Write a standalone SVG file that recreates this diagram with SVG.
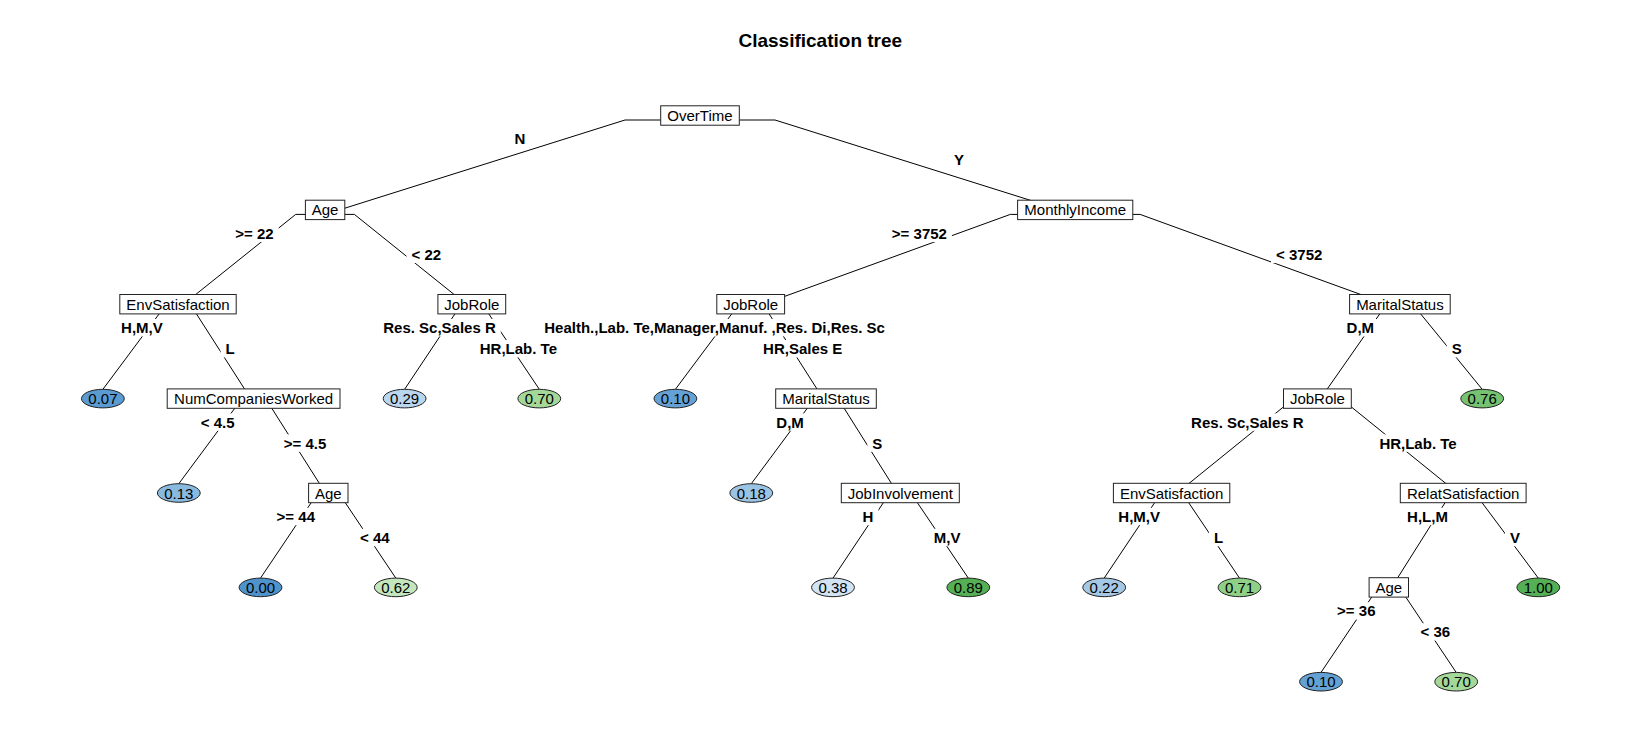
<svg xmlns="http://www.w3.org/2000/svg" width="1641" height="734" viewBox="0 0 1641 734">
<style>
text{font-family:"Liberation Sans",Arial,Helvetica,sans-serif;fill:#000}
.title{font-size:19px;font-weight:bold;text-anchor:middle}
.conn polyline{fill:none;stroke:#000;stroke-width:1}
.lbl text{font-size:15px;font-weight:bold;text-anchor:middle}
.lbl rect{fill:#fff;stroke:none}
.lbl .l{transform:translate(0,-2.5px)}
.lbl .r{transform:translate(0,-1px)}
.box rect{fill:#fff;stroke:#222;stroke-width:1}
.node text{font-size:15px;text-anchor:middle}
.leaf ellipse{stroke:#222;stroke-width:1}
</style>
<rect width="1641" height="734" fill="#fff"/>
<text class="title" x="820.3" y="46.5">Classification tree</text>

<g id="connectors" class="conn">
<polyline points="700,120 625,120 325.1,214.4"/>
<polyline points="700,120 775,120 1075.2,214.4"/>
<polyline points="325.1,214.4 295.7,214.4 178,308.7"/>
<polyline points="325.1,214.4 354.4,214.4 471.8,308.7"/>
<polyline points="1075.2,214.4 1010.3,214.4 750.7,308.7"/>
<polyline points="1075.2,214.4 1140.1,214.4 1399.9,308.7"/>
<polyline points="178,308.7 163,308.7 102.9,389.3"/>
<polyline points="178,308.7 193.1,308.7 253.6,403.1"/>
<polyline points="471.8,308.7 458.4,308.7 404.6,389.3"/>
<polyline points="471.8,308.7 485.3,308.7 539.3,389.3"/>
<polyline points="750.7,308.7 735.6,308.7 675.4,389.3"/>
<polyline points="750.7,308.7 765.8,308.7 826,403.1"/>
<polyline points="1399.9,308.7 1383.4,308.7 1317.4,403.1"/>
<polyline points="1399.9,308.7 1416.4,308.7 1482.2,389.3"/>
<polyline points="253.6,403.1 238.6,403.1 178.8,483.7"/>
<polyline points="253.6,403.1 268.5,403.1 328.3,497.5"/>
<polyline points="826,403.1 811.1,403.1 751.3,483.7"/>
<polyline points="826,403.1 840.9,403.1 900.3,497.5"/>
<polyline points="1317.4,403.1 1288.2,403.1 1171.6,497.5"/>
<polyline points="1317.4,403.1 1346.6,403.1 1463.2,497.5"/>
<polyline points="328.3,497.5 314.7,497.5 260.5,578.1"/>
<polyline points="328.3,497.5 341.8,497.5 395.8,578.1"/>
<polyline points="900.3,497.5 886.8,497.5 833,578.1"/>
<polyline points="900.3,497.5 913.9,497.5 968.3,578.1"/>
<polyline points="1171.6,497.5 1158.1,497.5 1104.2,578.1"/>
<polyline points="1171.6,497.5 1185.2,497.5 1239.5,578.1"/>
<polyline points="1463.2,497.5 1448.3,497.5 1388.8,591.9"/>
<polyline points="1463.2,497.5 1478.2,497.5 1538.3,578.1"/>
<polyline points="1388.8,591.9 1375.2,591.9 1321,672.4"/>
<polyline points="1388.8,591.9 1402.3,591.9 1456.2,672.4"/>
</g>

<g id="edge-labels" class="lbl">
<g class="l"><rect x="509.6" y="132.8" width="20.8" height="17.4"/><text x="520" y="146.9">N</text></g>
<g class="r"><rect x="948.9" y="152.3" width="20" height="17.4"/><text x="958.9" y="166.4">Y</text></g>
<g class="l"><rect x="230.3" y="227.2" width="48.4" height="17.4"/><text x="254.5" y="241.3">&gt;= 22</text></g>
<g class="r"><rect x="406.5" y="246.7" width="39.6" height="17.4"/><text x="426.3" y="260.8">&lt; 22</text></g>
<g class="l"><rect x="886.8" y="227.2" width="65.1" height="17.4"/><text x="919.4" y="241.3">&gt;= 3752</text></g>
<g class="r"><rect x="1271" y="246.7" width="56.3" height="17.4"/><text x="1299.2" y="260.8">&lt; 3752</text></g>
<g class="l"><rect x="116" y="321.5" width="51.7" height="17.4"/><text x="141.9" y="335.6">H,M,V</text></g>
<g class="r"><rect x="220.6" y="341" width="19.2" height="17.4"/><text x="230.2" y="355.1">L</text></g>
<g class="l"><rect x="378.2" y="321.5" width="122.6" height="17.4"/><text x="439.5" y="335.6">Res. Sc,Sales R</text></g>
<g class="r"><rect x="474.2" y="341" width="88.3" height="17.4"/><text x="518.4" y="355.1">HR,Lab. Te</text></g>
<g class="l"><rect x="537.3" y="321.5" width="354.6" height="17.4"/><text x="714.6" y="335.6">Health.,Lab. Te,Manager,Manuf. ,Res. Di,Res. Sc</text></g>
<g class="r"><rect x="758.1" y="341" width="89.2" height="17.4"/><text x="802.7" y="355.1">HR,Sales E</text></g>
<g class="l"><rect x="1341.5" y="321.5" width="37.5" height="17.4"/><text x="1360.3" y="335.6">D,M</text></g>
<g class="r"><rect x="1446.7" y="341" width="20" height="17.4"/><text x="1456.7" y="355.1">S</text></g>
<g class="l"><rect x="195.8" y="415.9" width="43.8" height="17.4"/><text x="217.7" y="430">&lt; 4.5</text></g>
<g class="r"><rect x="278.8" y="435.4" width="52.5" height="17.4"/><text x="305.1" y="449.5">&gt;= 4.5</text></g>
<g class="l"><rect x="771.3" y="415.9" width="37.5" height="17.4"/><text x="790.1" y="430">D,M</text></g>
<g class="r"><rect x="867.3" y="435.4" width="20" height="17.4"/><text x="877.3" y="449.5">S</text></g>
<g class="l"><rect x="1186.1" y="415.9" width="122.6" height="17.4"/><text x="1247.4" y="430">Res. Sc,Sales R</text></g>
<g class="r"><rect x="1373.8" y="435.4" width="88.3" height="17.4"/><text x="1418" y="449.5">HR,Lab. Te</text></g>
<g class="l"><rect x="271.6" y="510.3" width="48.4" height="17.4"/><text x="295.8" y="524.4">&gt;= 44</text></g>
<g class="r"><rect x="355.1" y="529.8" width="39.6" height="17.4"/><text x="374.9" y="543.9">&lt; 44</text></g>
<g class="l"><rect x="857.6" y="510.3" width="20.8" height="17.4"/><text x="868" y="524.4">H</text></g>
<g class="r"><rect x="928.8" y="529.8" width="36.7" height="17.4"/><text x="947.2" y="543.9">M,V</text></g>
<g class="l"><rect x="1113.3" y="510.3" width="51.7" height="17.4"/><text x="1139.2" y="524.4">H,M,V</text></g>
<g class="r"><rect x="1208.9" y="529.8" width="19.2" height="17.4"/><text x="1218.5" y="543.9">L</text></g>
<g class="l"><rect x="1402.1" y="510.3" width="50.8" height="17.4"/><text x="1427.5" y="524.4">H,L,M</text></g>
<g class="r"><rect x="1505" y="529.8" width="20" height="17.4"/><text x="1515" y="543.9">V</text></g>
<g class="l"><rect x="1332.1" y="604.7" width="48.4" height="17.4"/><text x="1356.3" y="618.8">&gt;= 36</text></g>
<g class="r"><rect x="1415.5" y="624.2" width="39.6" height="17.4"/><text x="1435.3" y="638.3">&lt; 36</text></g>
</g>

<g id="n-overtime" class="node box"><rect x="660.7" y="105.8" width="78.6" height="19.4"/><text x="700" y="121">OverTime</text></g>
<g id="n-age1" class="node box"><rect x="305.4" y="200.2" width="39.4" height="19.4"/><text x="325.1" y="215.4">Age</text></g>
<g id="n-monthlyincome" class="node box"><rect x="1017.6" y="200.2" width="115.2" height="19.4"/><text x="1075.2" y="215.4">MonthlyIncome</text></g>
<g id="n-envsat1" class="node box"><rect x="119.8" y="294.5" width="116.4" height="19.4"/><text x="178" y="309.7">EnvSatisfaction</text></g>
<g id="n-jobrole1" class="node box"><rect x="437.9" y="294.5" width="67.8" height="19.4"/><text x="471.8" y="309.7">JobRole</text></g>
<g id="n-jobrole2" class="node box"><rect x="716.8" y="294.5" width="67.8" height="19.4"/><text x="750.7" y="309.7">JobRole</text></g>
<g id="n-marital1" class="node box"><rect x="1349.6" y="294.5" width="100.6" height="19.4"/><text x="1399.9" y="309.7">MaritalStatus</text></g>
<g id="n-numcomp" class="node box"><rect x="167.2" y="388.9" width="172.8" height="19.4"/><text x="253.6" y="404.1">NumCompaniesWorked</text></g>
<g id="n-marital2" class="node box"><rect x="775.7" y="388.9" width="100.6" height="19.4"/><text x="826" y="404.1">MaritalStatus</text></g>
<g id="n-jobrole3" class="node box"><rect x="1283.5" y="388.9" width="67.8" height="19.4"/><text x="1317.4" y="404.1">JobRole</text></g>
<g id="n-age2" class="node box"><rect x="308.6" y="483.3" width="39.4" height="19.4"/><text x="328.3" y="498.5">Age</text></g>
<g id="n-jobinv" class="node box"><rect x="841.3" y="483.3" width="118" height="19.4"/><text x="900.3" y="498.5">JobInvolvement</text></g>
<g id="n-envsat2" class="node box"><rect x="1113.4" y="483.3" width="116.4" height="19.4"/><text x="1171.6" y="498.5">EnvSatisfaction</text></g>
<g id="n-relatsat" class="node box"><rect x="1400.3" y="483.3" width="125.8" height="19.4"/><text x="1463.2" y="498.5">RelatSatisfaction</text></g>
<g id="n-age3" class="node box"><rect x="1369.1" y="577.7" width="39.4" height="19.4"/><text x="1388.8" y="592.9">Age</text></g>

<g id="l-007" class="node leaf"><ellipse cx="102.9" cy="398.6" rx="21.4" ry="9.3" fill="#5A9BD2"/><text x="102.9" y="404.1">0.07</text></g>
<g id="l-029" class="node leaf"><ellipse cx="404.6" cy="398.6" rx="21.4" ry="9.3" fill="#BAD5EE"/><text x="404.6" y="404.1">0.29</text></g>
<g id="l-070a" class="node leaf"><ellipse cx="539.3" cy="398.6" rx="21.4" ry="9.3" fill="#A3D899"/><text x="539.3" y="404.1">0.70</text></g>
<g id="l-010a" class="node leaf"><ellipse cx="675.4" cy="398.6" rx="21.4" ry="9.3" fill="#64A2D5"/><text x="675.4" y="404.1">0.10</text></g>
<g id="l-076" class="node leaf"><ellipse cx="1482.2" cy="398.6" rx="21.4" ry="9.3" fill="#74C272"/><text x="1482.2" y="404.1">0.76</text></g>
<g id="l-013" class="node leaf"><ellipse cx="178.8" cy="493" rx="21.4" ry="9.3" fill="#88B9DF"/><text x="178.8" y="498.5">0.13</text></g>
<g id="l-018" class="node leaf"><ellipse cx="751.3" cy="493" rx="21.4" ry="9.3" fill="#9BC3E3"/><text x="751.3" y="498.5">0.18</text></g>
<g id="l-000" class="node leaf"><ellipse cx="260.5" cy="587.4" rx="21.4" ry="9.3" fill="#4E93CB"/><text x="260.5" y="592.9">0.00</text></g>
<g id="l-062" class="node leaf"><ellipse cx="395.8" cy="587.4" rx="21.4" ry="9.3" fill="#C4E6BC"/><text x="395.8" y="592.9">0.62</text></g>
<g id="l-038" class="node leaf"><ellipse cx="833" cy="587.4" rx="21.4" ry="9.3" fill="#D2E3F3"/><text x="833" y="592.9">0.38</text></g>
<g id="l-089" class="node leaf"><ellipse cx="968.3" cy="587.4" rx="21.4" ry="9.3" fill="#55B055"/><text x="968.3" y="592.9">0.89</text></g>
<g id="l-022" class="node leaf"><ellipse cx="1104.2" cy="587.4" rx="21.4" ry="9.3" fill="#A5C8E5"/><text x="1104.2" y="592.9">0.22</text></g>
<g id="l-071" class="node leaf"><ellipse cx="1239.5" cy="587.4" rx="21.4" ry="9.3" fill="#8FD087"/><text x="1239.5" y="592.9">0.71</text></g>
<g id="l-100" class="node leaf"><ellipse cx="1538.3" cy="587.4" rx="21.4" ry="9.3" fill="#54AF55"/><text x="1538.3" y="592.9">1.00</text></g>
<g id="l-010b" class="node leaf"><ellipse cx="1321" cy="681.7" rx="21.4" ry="9.3" fill="#64A2D5"/><text x="1321" y="687.2">0.10</text></g>
<g id="l-070b" class="node leaf"><ellipse cx="1456.2" cy="681.7" rx="21.4" ry="9.3" fill="#A3D899"/><text x="1456.2" y="687.2">0.70</text></g>
</svg>
